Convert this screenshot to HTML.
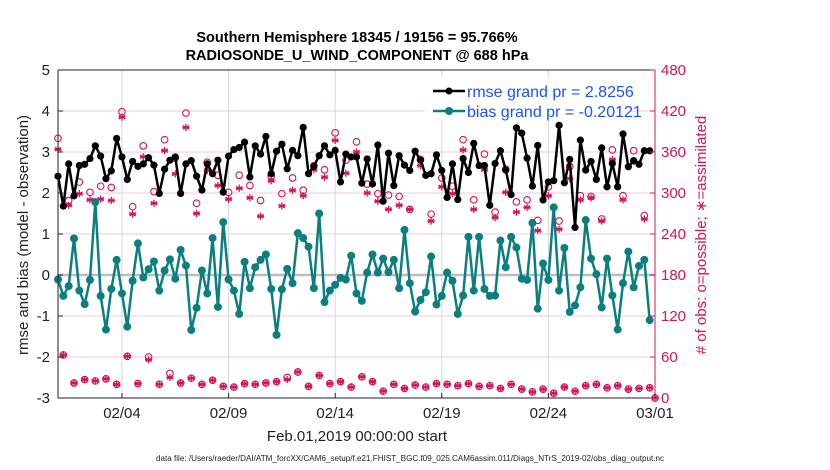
<!DOCTYPE html>
<html><head><meta charset="utf-8"><style>
html,body{margin:0;padding:0;background:#fff;}
svg{display:block;font-family:"Liberation Sans",sans-serif;}
</style></head><body>
<svg id="chart" width="830" height="470" viewBox="0 0 830 470">
<text x="357" y="42" text-anchor="middle" font-size="14.5" font-weight="bold">Southern Hemisphere 18345 / 19156 = 95.766%</text>
<text x="357" y="60" text-anchor="middle" font-size="14.5" font-weight="bold">RADIOSONDE_U_WIND_COMPONENT @ 688 hPa</text>
<g id="grid"></g>
<g id="marks"></g>
<g id="axes"></g>
<text transform="translate(28,235) rotate(-90)" text-anchor="middle" font-size="15" fill="#222">rmse and bias (model - observation)</text>
<text transform="translate(706,235) rotate(-90)" text-anchor="middle" font-size="15" fill="#d4145a"># of obs: o=possible; ∗=assimilated</text>
<text x="357" y="441" text-anchor="middle" font-size="15" fill="#222">Feb.01,2019 00:00:00 start</text>
<text x="410" y="461" text-anchor="middle" font-size="8" fill="#222" textLength="508" lengthAdjust="spacingAndGlyphs">data file: /Users/raeder/DAI/ATM_forcXX/CAM6_setup/f.e21.FHIST_BGC.f09_025.CAM6assim.011/Diags_NTrS_2019-02/obs_diag_output.nc</text>
<g>
<rect x="425" y="78" width="205" height="42" fill="#fff"/>
<line x1="433" y1="91" x2="465" y2="91" stroke="#000" stroke-width="2.5"/>
<circle cx="449" cy="91" r="3.5" fill="#000"/>
<text x="467" y="97" font-size="16" fill="#1a53ff">rmse grand pr = 2.8256</text>
<line x1="433" y1="111" x2="465" y2="111" stroke="#0b7f7f" stroke-width="2.5"/>
<circle cx="449" cy="111" r="4" fill="#0b7f7f"/>
<text x="467" y="117" font-size="16" fill="#1a53ff">bias grand pr = -0.20121</text>
</g>
</svg>
<script>
const rmse=[2.41,1.68,2.71,1.93,2.67,2.70,2.84,3.15,2.90,2.35,2.54,3.33,2.88,2.33,2.77,2.65,2.71,2.86,2.68,1.99,2.58,2.80,2.88,1.99,2.71,2.79,2.41,2.07,2.71,2.47,2.80,2.02,2.90,3.06,3.11,3.24,2.39,3.15,2.95,3.38,2.47,3.02,3.19,2.59,3.04,2.91,3.60,2.47,2.65,2.91,3.15,2.93,3.04,2.27,2.95,2.88,2.88,2.24,2.83,2.22,3.17,1.80,2.97,2.18,2.91,2.68,2.55,3.02,2.80,2.43,2.47,2.93,2.55,1.89,2.71,1.84,2.84,2.50,3.21,2.67,2.67,1.70,2.72,3.03,2.56,1.96,3.59,3.46,2.85,2.17,3.16,1.83,2.27,2.30,3.65,2.25,2.82,1.16,3.29,2.56,2.77,2.33,3.10,2.15,2.72,2.15,3.44,2.64,2.79,2.70,3.03,3.03];
const bias=[-0.11,-0.51,-0.27,0.89,-0.38,-0.71,-0.12,1.78,-0.51,-1.33,-0.34,0.37,-0.45,-1.26,-0.14,0.77,-0.06,0.14,0.33,-0.38,0.11,0.38,-0.09,0.61,0.23,-1.34,-0.80,0.11,-0.45,0.90,-0.78,1.29,-0.11,-0.38,-0.95,0.32,-0.32,0.19,0.37,0.50,-0.34,-1.46,-0.35,0.15,-0.20,1.02,0.90,0.69,-0.32,1.50,-0.66,-0.38,-0.24,-0.07,-0.11,0.47,-0.45,-0.63,0.06,0.50,0.06,0.40,0.07,0.37,-0.32,1.10,-0.20,-0.89,-0.61,-0.42,0.45,-0.72,-0.51,0.06,-0.14,-0.95,-0.50,0.93,-0.38,0.93,-0.34,-0.51,-0.50,0.84,0.19,0.93,0.67,-0.09,-0.12,1.27,-0.82,0.28,-0.12,1.65,-0.38,0.66,-0.90,-0.74,-0.30,1.34,0.40,0.02,-0.79,0.40,-0.50,-1.33,-0.20,0.57,-0.30,0.22,0.37,-1.10];
const possible=[380,63,289,22,316,27,301,25,310,28,308,20,419,61,280,21,369,60,302,20,378,36,351,22,417,29,285,20,345,26,326,17,301,16,326,21,311,20,289,22,325,24,299,30,322,38,304,17,340,33,334,21,388,24,348,16,375,31,313,24,299,10,297,20,295,14,276,19,349,16,269,21,322,20,310,18,378,21,290,17,357,18,272,14,335,20,287,13,290,9,260,13,309,7,259,16,339,10,296,18,295,20,262,15,363,18,296,13,362,14,267,15,0];
const assimilated=[364,63,282,22,299,27,290,25,291,28,289,20,411,61,269,21,353,56,285,20,362,30,328,22,396,29,270,20,333,26,311,17,291,16,307,21,293,20,266,22,318,24,281,27,304,38,296,17,334,33,323,21,377,24,329,16,360,31,300,24,288,10,276,20,282,14,276,19,340,16,259,21,309,20,299,18,363,21,276,17,334,18,264,14,301,20,272,13,279,9,245,13,296,7,247,16,321,10,290,18,293,20,259,15,349,18,290,13,346,14,262,15,0];
const yTicks=[-3,-2,-1,0,1,2,3,4,5];
const rTicks=[0,60,120,180,240,300,360,420,480];
const dateLabels=['02/04','02/09','02/14','02/19','02/24','03/01'];
const dateDays=[3,8,13,18,23,28];

const L=58,R=655,T=70,B=398;
const NS='http://www.w3.org/2000/svg';
const xDay=d=>L+(R-L)*d/28;
const xIdx=i=>xDay(i/4);
const yL=v=>B-(v+3)/8*(B-T);
const yR=c=>B-c/480*(B-T);
function mk(tag,attrs,parent){const e=document.createElementNS(NS,tag);for(const k in attrs)e.setAttribute(k,attrs[k]);parent.appendChild(e);return e;}
const grid=document.getElementById('grid'),marks=document.getElementById('marks'),axes=document.getElementById('axes');
rTicks.forEach(c=>{const e=mk('line',{x1:L,x2:R,y1:yR(c),y2:yR(c),stroke:'#f3c9d8','stroke-width':1},grid);

});
dateDays.forEach(d=>{const e=mk('line',{x1:xDay(d),x2:xDay(d),y1:T,y2:B,stroke:'#d8d8d8','stroke-width':1},grid);

});
const z=mk('line',{x1:L,x2:R,y1:yL(0),y2:yL(0),stroke:'#bdbdbd','stroke-width':2.5},grid);


function star(cx,cy,r,parent){const g=mk('g',{stroke:'#d4145a','stroke-width':1.3},parent);
for(let k=0;k<3;k++){const a=Math.PI/2+k*Math.PI/3;mk('line',{x1:cx-r*Math.cos(a),y1:cy-r*Math.sin(a),x2:cx+r*Math.cos(a),y2:cy+r*Math.sin(a)},g);}
mk('line',{x1:cx-r,y1:cy,x2:cx+r,y2:cy},g);return g;}
possible.forEach((c,i)=>{const e=mk('circle',{cx:xIdx(i),cy:yR(c),r:3.3,fill:'none',stroke:'#d4145a','stroke-width':1.1},marks);

});
assimilated.forEach((c,i)=>{const g=star(xIdx(i),yR(c),3.6,marks);

});
function series(vals,color,r,name){
const p=mk('polyline',{points:vals.map((v,i)=>xIdx(i)+','+yL(v)).join(' '),fill:'none',stroke:color,'stroke-width':2.5,'stroke-linejoin':'round'},marks);


vals.forEach((v,i)=>{const c=mk('circle',{cx:xIdx(i),cy:yL(v),r:r,fill:color},marks);

});}
series(bias,'#0b7f7f',4,'bias');
series(rmse,'#000',3.6,'rmse');
const a1=mk('line',{x1:L,x2:L,y1:T,y2:B,stroke:'#222','stroke-width':1},axes);


const a2=mk('line',{x1:L,x2:R,y1:B,y2:B,stroke:'#222','stroke-width':1},axes);


const a3=mk('line',{x1:L,x2:R,y1:T,y2:T,stroke:'#222','stroke-width':1},axes);


const a4=mk('line',{x1:R,x2:R,y1:T,y2:B,stroke:'#d4145a','stroke-width':1},axes);


yTicks.forEach(v=>{mk('line',{x1:L,x2:L+5,y1:yL(v),y2:yL(v),stroke:'#222'},axes);
const t=mk('text',{x:L-8,y:yL(v)+5,'text-anchor':'end','font-size':15,fill:'#222'},axes);t.textContent=v;

});
rTicks.forEach(c=>{mk('line',{x1:R-5,x2:R,y1:yR(c),y2:yR(c),stroke:'#d4145a'},axes);
const t=mk('text',{x:R+6,y:yR(c)+5,'font-size':15,fill:'#d4145a'},axes);t.textContent=c;

});
dateLabels.forEach((s,k)=>{const x=xDay(dateDays[k]);mk('line',{x1:x,x2:x,y1:B-5,y2:B,stroke:'#222'},axes);
const t=mk('text',{x:x,y:B+20,'text-anchor':'middle','font-size':15,fill:'#222'},axes);t.textContent=s;

});
</script>
</body></html>
